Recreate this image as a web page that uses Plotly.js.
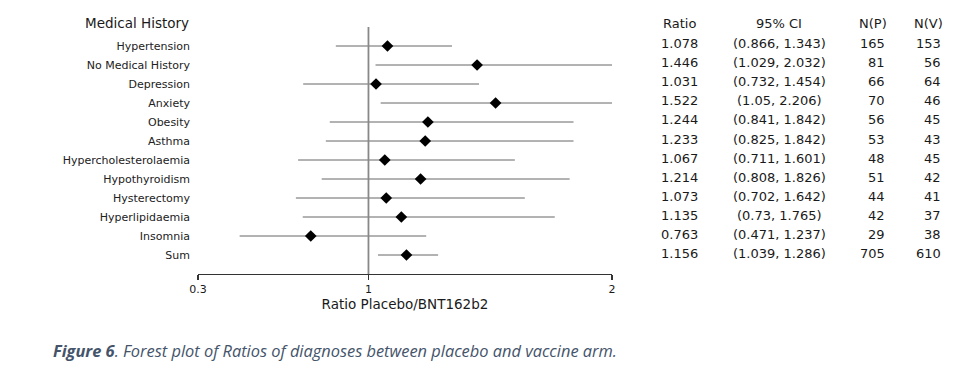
<!DOCTYPE html>
<html>
<head>
<meta charset="utf-8">
<script src="https://cdn.plot.ly/plotly-3.0.1.min.js"></script>
<style>html,body{margin:0;padding:0;background:#fff;}#chart{width:964px;height:390px;}</style>
</head>
<body>
<div id="chart"></div>
<script>
const conditions = ["Hypertension","No Medical History","Depression","Anxiety","Obesity","Asthma","Hypercholesterolaemia","Hypothyroidism","Hysterectomy","Hyperlipidaemia","Insomnia","Sum"];
const ratio = [1.078,1.446,1.031,1.522,1.244,1.233,1.067,1.214,1.073,1.135,0.763,1.156];
const ciLow = [0.866,1.029,0.732,1.05,0.841,0.825,0.711,0.808,0.702,0.73,0.471,1.039];
const ciHigh = [1.343,2.032,1.454,2.206,1.842,1.842,1.601,1.826,1.642,1.765,1.237,1.286];
const ciText = ["(0.866, 1.343)","(1.029, 2.032)","(0.732, 1.454)","(1.05, 2.206)","(0.841, 1.842)","(0.825, 1.842)","(0.711, 1.601)","(0.808, 1.826)","(0.702, 1.642)","(0.73, 1.765)","(0.471, 1.237)","(1.039, 1.286)"];
const ratioText = ["1.078","1.446","1.031","1.522","1.244","1.233","1.067","1.214","1.073","1.135","0.763","1.156"];
const nPlacebo = [165,81,66,70,56,53,48,51,44,42,29,705];
const nVaccine = [153,56,64,46,45,43,45,42,41,37,38,610];
const xTickVals = [0.3,1,2];
const xTickText = ["0.3","1","2"];

const W = 964, H = 390;
const px = v => v / W;
const py = v => 1 - v / H;

const trace = {
  type: 'scatter', mode: 'markers',
  x: ratio, y: conditions,
  marker: {symbol: 'diamond', size: 9, color: '#000'},
  error_x: {
    type: 'data', symmetric: false,
    array: ratio.map((r,i) => ciHigh[i] - r),
    arrayminus: ratio.map((r,i) => r - ciLow[i]),
    color: '#666', thickness: 1, width: 0
  },
  hoverinfo: 'skip', showlegend: false
};

const tFont = {family: 'DejaVu Sans', size: 13, color: '#1a1a1a'};
const annotations = [];
annotations.push({xref:'paper', yref:'paper', x: px(191), y: py(23), xanchor:'right', yanchor:'middle', text:'Medical History', showarrow:false, font:{family:'DejaVu Sans', size:13.5, color:'#1a1a1a'}});
const headers = [["Ratio",679,'center'],["95% CI",779,'center'],["N(P)",889,'right'],["N(V)",945,'right']];
headers.forEach(h => annotations.push({xref:'paper', yref:'paper', x: px(h[1]), y: py(23), xanchor:h[2], yanchor:'middle', text:h[0], showarrow:false, font:tFont}));
conditions.forEach((c,i) => {
  annotations.push({xref:'paper', yref:'y', x: px(679), y: c, yshift: 2, xanchor:'center', yanchor:'middle', text: ratioText[i], showarrow:false, font:tFont});
  annotations.push({xref:'paper', yref:'y', x: px(779), y: c, yshift: 2, xanchor:'center', yanchor:'middle', text: ciText[i], showarrow:false, font:tFont});
  annotations.push({xref:'paper', yref:'y', x: px(887), y: c, yshift: 2, xanchor:'right', yanchor:'middle', text: String(nPlacebo[i]), showarrow:false, font:tFont});
  annotations.push({xref:'paper', yref:'y', x: px(943), y: c, yshift: 2, xanchor:'right', yanchor:'middle', text: String(nVaccine[i]), showarrow:false, font:tFont});
});
annotations.push({xref:'paper', yref:'paper', x: px(51), y: py(350), xanchor:'left', yanchor:'middle', showarrow:false,
  text:'<b><i>Figure 6</i></b><i>. Forest plot of Ratios of diagnoses between placebo and vaccine arm.</i>',
  font:{family:'Open Sans', size:16.4, color:'#44546A'}});

const layout = {
  width: W, height: H,
  margin: {l:0, r:0, t:0, b:0},
  paper_bgcolor: '#fff', plot_bgcolor: '#fff',
  font: {family: 'DejaVu Sans', color: '#1a1a1a'},
  xaxis: {
    domain: [px(198), px(612)],
    range: [0.3, 2], fixedrange: true,
    showgrid: false, zeroline: false,
    showline: true, linecolor: '#333', linewidth: 1.2,
    ticks: 'outside', ticklen: 5, tickcolor: '#333', tickwidth: 1.2,
    tickvals: xTickVals, ticktext: xTickText,
    tickfont: {family:'DejaVu Sans', size: 11, color:'#1a1a1a'},
    title: {text: 'Ratio Placebo/BNT162b2', font: {family:'DejaVu Sans', size: 13.5, color:'#1a1a1a'}, standoff: 4},
    anchor: 'y'
  },
  yaxis: {
    domain: [py(274), py(27)],
    type: 'category', categoryorder: 'array', categoryarray: conditions,
    range: [12, -1],
    showgrid: false, zeroline: false, showline: false,
    ticks: '', ticklabelstandoff: 7,
    tickfont: {family:'DejaVu Sans', size: 11, color:'#222'}
  },
  shapes: [{type:'line', xref:'x', yref:'paper', x0:1, x1:1, y0:py(274), y1:py(27), line:{color:'#888', width:1.8}}],
  annotations: annotations
};

Plotly.newPlot('chart', [trace], layout, {displayModeBar:false, staticPlot:true});
</script>
</body>
</html>
